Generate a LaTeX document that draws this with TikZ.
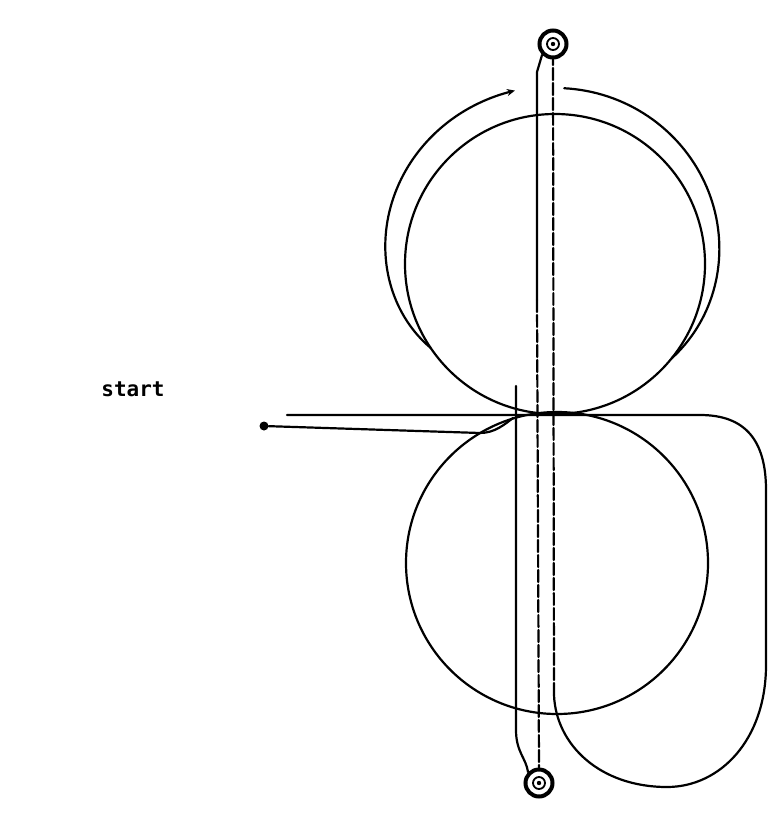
\documentclass[tikz,border=0pt]{standalone}
\usepackage{fontspec}
\newfontfamily\monofont{DejaVu Sans Mono}
\usetikzlibrary{arrows.meta}
\begin{document}
\begin{tikzpicture}[x=1pt,y=-1pt,
  strand/.style={line width=2.2pt,line cap=round,line join=round},
  dashstrand/.style={strand,dash pattern=on 12pt off 3pt},
  roll/.style={circle,draw,line width=2.2pt,inner sep=0pt,minimum size=300pt},
  reel/.style={circle,draw,line width=4pt,inner sep=0pt,minimum size=27pt},
  label/.style={font=\monofont\bfseries\fontsize{21}{24}\selectfont,inner sep=0pt}]
\path[use as bounding box] (0,0) rectangle (769,824);
% rolls
\node[roll] (upper) at (555,264) {};
\node[roll,minimum size=302pt] (lower) at (557,563) {};
% reels
\node[reel] (top) at (553,44) {};
\node[reel] (bot) at (539,783) {};
\draw[line width=1.8pt] (top.center) circle (6pt);
\draw[line width=1.8pt] (bot.center) circle (6pt);
\fill (top.center) circle (2.2pt);
\fill (bot.center) circle (2.2pt);
% start
\node[label] (lab) at (133,389) {start};
\node[circle,fill,inner sep=0pt,minimum size=9pt] (dot) at (264,426) {};
% free ends
\coordinate (hstart) at (287,415);
\coordinate (vtop) at (516,386);
\coordinate (join) at (513,418);
% outer wrap arcs on upper roll
\draw[strand,{Stealth[length=8pt,width=7pt]}-] plot[domain=0:1,samples=70,variable=\t]
  ({555+(150+28*(1-\t*\t*\t))*cos(-103-111*\t)},{264+(150+28*(1-\t*\t*\t))*sin(-103-111*\t)});
\draw[strand] plot[domain=0:1,samples=70,variable=\t]
  ({555+(150+26*(1-\t*\t))*cos(-87+126*\t)},{264+(150+26*(1-\t*\t))*sin(-87+126*\t)});
% feed line from start dot
\draw[strand] (dot) -- (480,433) .. controls (495,433) and (505,424) .. (join);
% upper horizontal line with big loop up to top reel
\draw[strand] (hstart) -- (700,415) .. controls (745,415) and (766,440) .. (766,490)
  -- (766,665) .. controls (766,740) and (720,787) .. (667,787)
  .. controls (600,787) and (556,745) .. (554,695);
\draw[dashstrand] (554,695) -- (top.south);
% middle strand between reels
\draw[strand] (top.south west) -- (537,72) -- (537,300);
\draw[dashstrand] (537,300) -- (bot.north);
% left strand
\draw[strand] (vtop) -- (516,730) .. controls (516,752) and (526,758) .. (bot.north west);
\end{tikzpicture}
\end{document}
